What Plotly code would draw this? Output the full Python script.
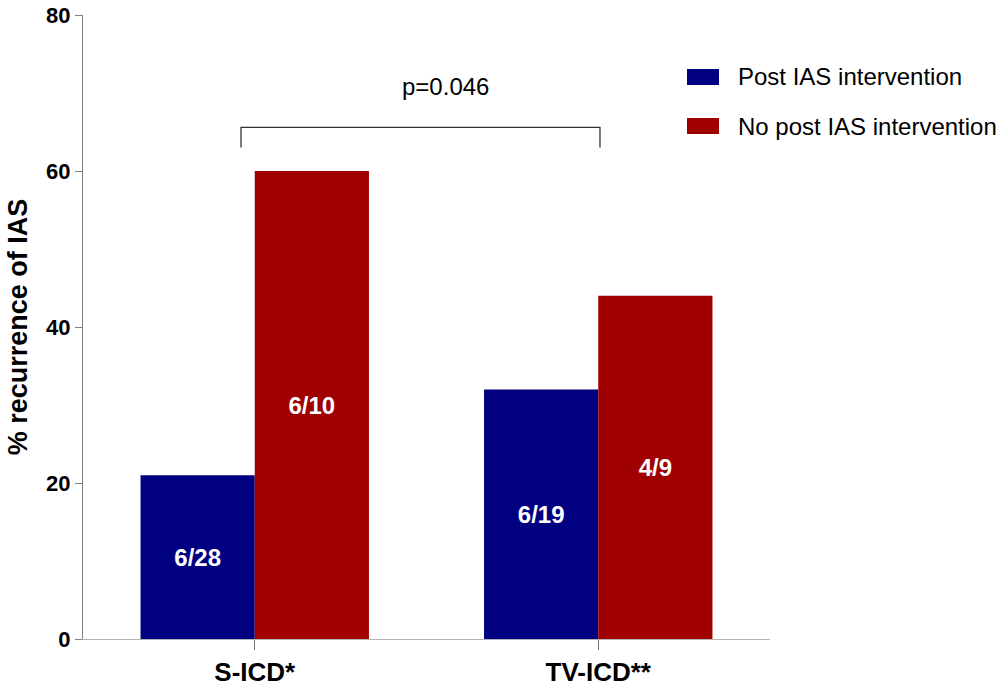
import plotly.graph_objects as go

categories = ["S-ICD*", "TV-ICD**"]
series_names = ["Post IAS intervention", "No post IAS intervention"]
post_values = [21, 32]
no_post_values = [60, 44]
post_labels = ["6/28", "6/19"]
no_post_labels = ["6/10", "4/9"]
y_ticks = [0, 20, 40, 60, 80]
p_text = "p=0.046"

BLUE = "#000080"
RED = "#A00000"
FONT = "Arial, Liberation Sans, sans-serif"

fig = go.Figure()
for name, vals, labels, col in [
    (series_names[0], post_values, post_labels, BLUE),
    (series_names[1], no_post_values, no_post_labels, RED),
]:
    fig.add_trace(go.Bar(
        x=categories, y=vals, name=name, marker=dict(color=col, line=dict(width=0)),
        text=labels, textposition="inside", insidetextanchor="middle",
        textfont=dict(family=FONT, size=24, color="white", weight="bold"),
        constraintext="none", showlegend=False,
    ))

# significance bracket
fig.add_shape(type="path", xref="x", yref="y",
              path="M -0.04,63.0 L -0.04,65.6 L 1.005,65.6 L 1.005,63.0",
              line=dict(color="#333333", width=1.3))
fig.add_annotation(x=0.555, y=70.8, xref="x", yref="y", text=p_text, showarrow=False,
                   font=dict(family=FONT, size=24, color="black"))

# legend (drawn)
W, H = 687.0, 624.0
def px(x):
    return (x - 83) / W
def py(y):
    return (639 - y) / H
legend_rows = [(series_names[0], BLUE, 69, 85), (series_names[1], RED, 118, 134)]
for name, col, top, bot in legend_rows:
    fig.add_shape(type="rect", xref="paper", yref="paper",
                  x0=px(687), x1=px(719), y0=py(bot), y1=py(top),
                  fillcolor=col, line=dict(width=0))
    fig.add_annotation(x=px(736), y=py((top + bot) / 2), xref="paper", yref="paper",
                       xanchor="left", yanchor="middle", text=name, showarrow=False,
                       font=dict(family=FONT, size=24, color="black"))

fig.update_layout(
    width=1002, height=688,
    margin=dict(l=83, r=232, t=15, b=49, pad=0),
    paper_bgcolor="white", plot_bgcolor="white",
    barmode="group", bargap=0.335, bargroupgap=0,
    showlegend=False,
    font=dict(family=FONT, color="black"),
)
fig.update_xaxes(
    range=[-0.5, 1.5], showline=True, linecolor="#b4b4b4", linewidth=1.3,
    ticks="outside", ticklen=10, tickcolor="#707070", tickwidth=1.3,
    tickfont=dict(family=FONT, size=26, color="black", weight="bold"),
    showgrid=False, zeroline=False, automargin=False,
)
fig.update_yaxes(
    range=[0, 80], tickvals=y_ticks, showline=True, linecolor="#808080", linewidth=1.3,
    ticks="outside", ticklen=7, tickcolor="#808080", tickwidth=1.3,
    tickfont=dict(family=FONT, size=22, color="black", weight="bold"),
    showgrid=False, zeroline=False, automargin=False,
    title=dict(text="% recurrence of IAS", standoff=10,
               font=dict(family=FONT, size=27, color="black", weight="bold")),
)

fig.write_html("out.html", config={"displayModeBar": False},
               post_script="document.body.style.margin='0';document.body.style.overflow='hidden';")
